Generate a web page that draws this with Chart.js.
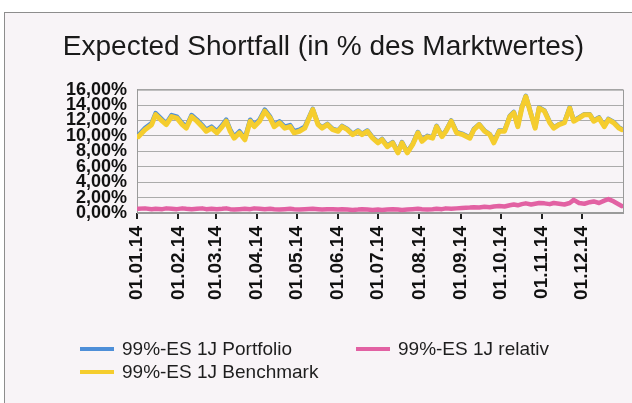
<!DOCTYPE html>
<html>
<head>
<meta charset="utf-8">
<script src="https://cdn.jsdelivr.net/npm/chart.js@4.4.1/dist/chart.umd.min.js"></script>
<style>
  html,body{margin:0;padding:0;background:#fff;}
  body{width:632px;height:403px;overflow:hidden;position:relative;font-family:"Liberation Sans",Arial,sans-serif;}
  .frame{position:absolute;left:4px;top:12px;width:660px;height:420px;border:1px solid #8d8d8d;background:#f8f4f7;}
  .wrap{position:absolute;left:0;top:0;width:632px;height:403px;}
  #legend{position:absolute;left:80px;top:337px;display:grid;grid-template-columns:276px 276px;grid-auto-rows:23px;font-size:19px;color:#1e1e1e;}
  .item{display:flex;align-items:center;white-space:nowrap;}
  .item i{display:inline-block;width:34px;height:4px;margin-right:8px;}
</style>
</head>
<body>
<div class="frame"></div>
<div class="wrap"><canvas id="chart" width="632" height="403"></canvas></div>
<div id="legend"></div>
<script>
// month starts (day of year) and their labels
const monthTicks = [0,31,59,90,120,151,181,212,243,273,304,334];
const monthLabels = ['01.01.14','01.02.14','01.03.14','01.04.14','01.05.14','01.06.14','01.07.14','01.08.14','01.09.14','01.10.14','01.11.14','01.12.14'];

// day of year for each reading
const days = [1,6,11,14,19,22,26,30,34,37,
  41,45,49,52,56,60,64,67,70,73,
  77,81,85,88,92,96,100,103,107,111,
  115,118,122,126,132,136,139,143,147,151,
  154,158,162,166,169,173,177,181,184,188,
  192,196,199,203,207,211,214,218,222,225,
  229,232,236,240,244,250,253,257,261,265,
  268,272,276,280,283,286,289,292,296,299,
  302,306,310,313,317,321,325,328,332,336,
  340,343,347,351,354,358,362,364];

const portfolio = [10.1,11.0,11.65,12.95,12.1,11.65,12.7,12.5,11.65,11.2,
  12.7,12.1,11.4,10.8,11.2,10.6,11.4,12.1,10.8,9.9,
  10.6,9.7,12.1,11.4,12.1,13.4,12.5,11.4,11.9,11.2,
  11.4,10.6,10.8,11.2,13.5,11.55,11.1,11.55,10.9,10.7,
  11.3,10.9,10.25,10.7,10.25,10.7,9.8,9.2,9.6,8.7,
  9.2,7.9,9.2,7.9,8.95,10.5,9.4,10.0,9.8,11.3,
  10.0,10.7,12.0,10.5,10.3,9.8,10.9,11.5,10.7,10.2,
  9.2,10.7,10.7,12.6,13.1,11.3,13.7,15.2,12.8,11.1,
  13.7,13.3,11.8,11.1,11.5,11.8,13.7,12.0,12.4,12.8,
  12.8,12.0,12.4,11.3,12.2,11.8,11.1,10.9];

const benchmark = [9.9,10.8,11.45,12.75,11.9,11.45,12.5,12.3,11.45,11.0,
  12.5,11.9,11.2,10.6,11.0,10.4,11.2,11.9,10.6,9.7,
  10.4,9.5,11.9,11.2,11.9,13.2,12.3,11.2,11.7,11.0,
  11.2,10.4,10.6,11.0,13.4,11.45,11.0,11.45,10.8,10.6,
  11.2,10.8,10.15,10.6,10.15,10.6,9.7,9.1,9.5,8.6,
  9.1,7.8,9.1,7.8,8.85,10.4,9.3,9.9,9.7,11.2,
  9.9,10.6,11.9,10.4,10.2,9.7,10.8,11.45,10.6,10.15,
  9.1,10.6,10.6,12.5,13.0,11.2,13.6,15.1,12.75,11.0,
  13.6,13.2,11.7,11.0,11.45,11.7,13.6,11.9,12.3,12.75,
  12.75,11.9,12.3,11.2,12.1,11.7,11.0,10.8];

const relativ = [0.55,0.6,0.5,0.55,0.5,0.6,0.55,0.5,0.6,0.55,
  0.5,0.55,0.6,0.5,0.55,0.5,0.55,0.6,0.5,0.45,
  0.5,0.55,0.5,0.6,0.55,0.5,0.55,0.5,0.45,0.5,
  0.55,0.5,0.45,0.5,0.55,0.5,0.45,0.5,0.5,0.45,
  0.5,0.45,0.4,0.45,0.5,0.45,0.4,0.45,0.4,0.45,
  0.5,0.45,0.4,0.45,0.5,0.55,0.5,0.45,0.5,0.55,
  0.5,0.6,0.55,0.6,0.65,0.7,0.75,0.7,0.8,0.75,
  0.85,0.9,0.85,1.0,1.1,1.0,1.15,1.25,1.1,1.2,
  1.3,1.25,1.15,1.3,1.2,1.1,1.3,1.7,1.3,1.2,
  1.4,1.5,1.3,1.6,1.8,1.5,1.1,0.9];

const seriesNames = ['99%-ES 1J Portfolio','99%-ES 1J relativ','99%-ES 1J Benchmark'];
const seriesColors = ['#4e8fd8','#e261a3','#f5cd2e'];
const seriesData = [portfolio, relativ, benchmark];

const FONT = '"Liberation Sans", Arial, sans-serif';

const plotBorder = {
  id:'plotBorder',
  beforeDatasetsDraw(chart){
    const a = chart.chartArea, c = chart.ctx;
    c.save();
    c.strokeStyle = '#9a9a9a';
    c.lineWidth = 1;
    c.strokeRect(a.left+0.5, a.top+0.5, a.right-a.left, a.bottom-a.top);
    c.restore();
  }
};

new Chart(document.getElementById('chart'), {
  type:'line',
  data:{
    labels: days,
    datasets: seriesData.map((d,i) => ({
      label: seriesNames[i],
      data: d,
      borderColor: seriesColors[i],
      backgroundColor: seriesColors[i],
      borderWidth: i === 2 ? 5 : 4.5,
      order: 2 - i
    }))
  },
  options:{
    responsive:false,
    animation:false,
    elements:{point:{radius:0}, line:{tension:0, borderJoinStyle:'round', borderCapStyle:'round'}},
    layout:{padding:{left:24, right:9, top:0, bottom:90}},
    plugins:{
      legend:{display:false},
      tooltip:{enabled:false},
      title:{
        display:true,
        text:'Expected Shortfall (in % des Marktwertes)',
        color:'#1a1a1a',
        font:{family:FONT, size:28, weight:'normal'},
        padding:{top:30, bottom:26}
      }
    },
    scales:{
      x:{
        type:'linear', min:0, max:365,
        afterBuildTicks: s => { s.ticks = monthTicks.map(v => ({value:v})); },
        afterFit: s => { s.height = 100; },
        ticks:{
          autoSkip:false, maxRotation:90, minRotation:90, padding:7,
          color:'#111', font:{family:FONT, size:19, weight:'bold'},
          callback:(v, i) => monthLabels[i]
        },
        grid:{drawOnChartArea:false, drawTicks:true, tickLength:6, color:'#222', lineWidth:2},
        border:{display:true, color:'#9a9a9a'}
      },
      y:{
        min:0, max:16,
        afterFit: s => { s.width = 113; },
        ticks:{
          stepSize:2, autoSkip:false, padding:10,
          color:'#111', font:{family:FONT, size:18, weight:'bold'},
          callback: v => v.toFixed(2).replace('.', ',') + '%'
        },
        grid:{color:'#ababab', drawTicks:false},
        border:{color:'#9a9a9a'}
      }
    }
  },
  plugins:[plotBorder]
});

// legend in the Excel order: Portfolio, relativ / Benchmark
const legend = document.getElementById('legend');
seriesNames.forEach((name, i) => {
  const el = document.createElement('div');
  el.className = 'item';
  el.innerHTML = `<i style="background:${seriesColors[i]}"></i><span>${name}</span>`;
  legend.appendChild(el);
});
</script>
</body>
</html>
